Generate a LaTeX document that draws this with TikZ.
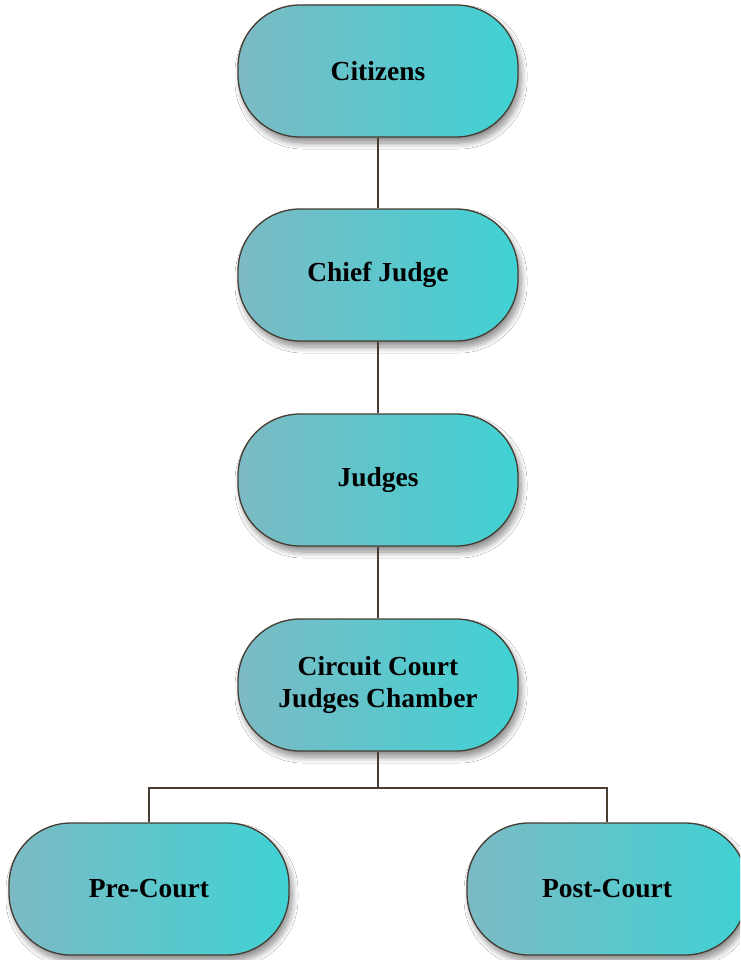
\documentclass[tikz,border=0pt]{standalone}
\usepackage{fontspec}
\setmainfont{Liberation Serif}
\usetikzlibrary{shadows.blur}
\definecolor{tealL}{RGB}{124,186,196}
\definecolor{tealR}{RGB}{64,210,212}
\definecolor{edgebrown}{RGB}{70,60,50}
\tikzset{
  orgbox/.style={rectangle, rounded corners=62pt, minimum width=280pt, minimum height=132pt,
    left color=tealL, right color=tealR, draw=edgebrown, line width=1.3pt,
    blur shadow={shadow xshift=3pt, shadow yshift=-6pt, shadow blur steps=10, shadow blur radius=6pt, shadow opacity=45},
    align=center, font=\fontsize{27.5}{32}\selectfont\bfseries, text=black},
  link/.style={draw=edgebrown, line width=1.2pt}
}
\begin{document}
\begin{tikzpicture}[x=1pt,y=-1pt]
  \clip (0,0) rectangle (740,960);
  \fill[white] (0,0) rectangle (740,960);
  % hierarchy of offices
  \node[orgbox] (citizens) at (378,71) {Citizens};
  \node[orgbox] (chief) at (378,275) {Chief Judge};
  \node[orgbox] (judges) at (378,480) {Judges};
  \node[orgbox] (circuit) at (378,685) {Circuit Court\\Judges Chamber};
  \node[orgbox] (pre) at (149,889) {Pre-Court};
  \node[orgbox] (post) at (607,889) {Post-Court};
  % connectors
  \coordinate (split) at (378,788);
  \path[link] (citizens.south) -- (chief.north);
  \path[link] (chief.south) -- (judges.north);
  \path[link] (judges.south) -- (circuit.north);
  \path[link] (circuit.south) -- (split);
  \path[link] (split) -| (pre.north);
  \path[link] (split) -| (post.north);
\end{tikzpicture}
\end{document}
